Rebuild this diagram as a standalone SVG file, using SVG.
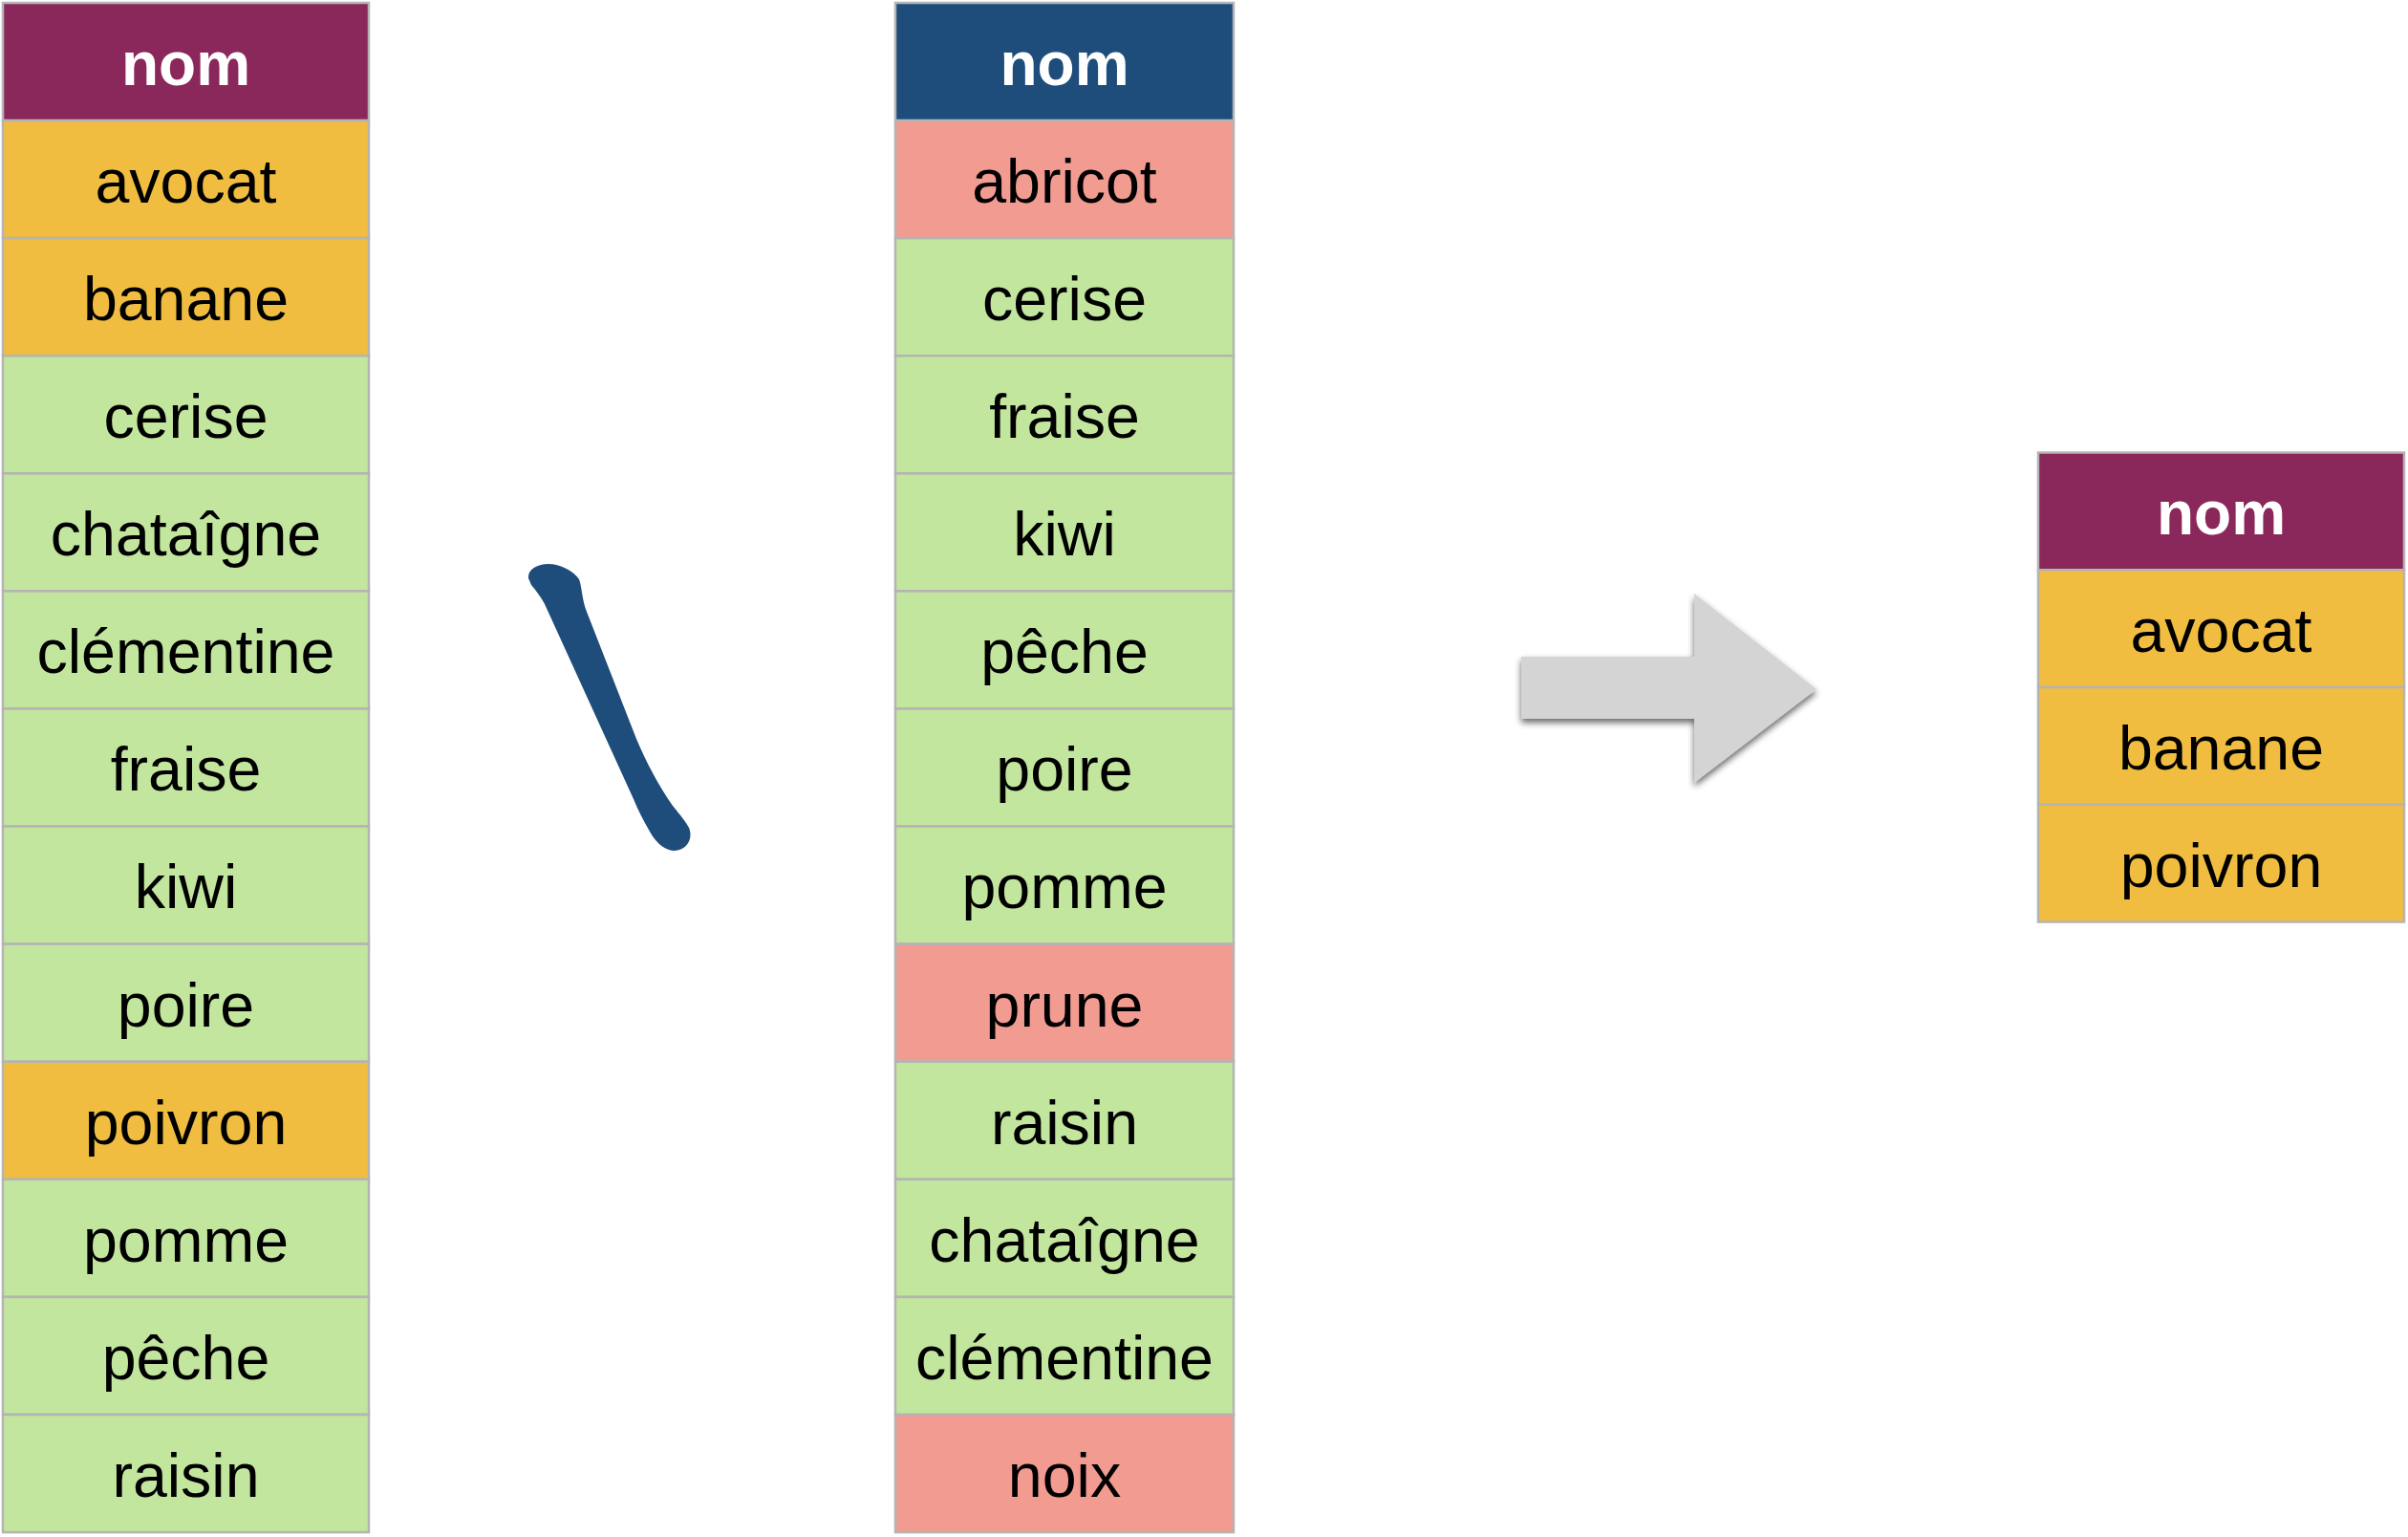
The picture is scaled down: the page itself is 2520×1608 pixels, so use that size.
<svg xmlns="http://www.w3.org/2000/svg" width="2520" height="1608" viewBox="0 0 2520 1608">
<style>
.cell{stroke:#b4b4b4;stroke-width:2.5}
.hp{fill:#8b285b}
.hb{fill:#1f4d7b}
.o{fill:#f0bd40}
.g{fill:#c2e69e}
.p{fill:#f29b90}
.t{font-family:"Liberation Sans",Arial,Helvetica,sans-serif;font-size:64.5px;fill:#000;text-anchor:middle}
.h{font-family:"Liberation Sans",Arial,Helvetica,sans-serif;font-size:64px;font-weight:bold;fill:#fff;text-anchor:middle}
</style>
<defs>
<filter id="sh" x="-10%" y="-10%" width="130%" height="130%">
<feGaussianBlur in="SourceAlpha" stdDeviation="3.5"/>
<feOffset dx="0" dy="4" result="b"/>
<feComponentTransfer><feFuncA type="linear" slope="0.6"/></feComponentTransfer>
<feMerge><feMergeNode/><feMergeNode in="SourceGraphic"/></feMerge>
</filter>
</defs>
<rect width="2520" height="1608" fill="#fff"/>

<g id="table-left">
<rect class="cell hp" x="3" y="3" width="383" height="123.08"/><text class="h" x="194.5" y="89">nom</text>
<rect class="cell o" x="3" y="126.08" width="383" height="123.08"/><text class="t" x="194.5" y="212">avocat</text>
<rect class="cell o" x="3" y="249.16" width="383" height="123.08"/><text class="t" x="194.5" y="335">banane</text>
<rect class="cell g" x="3" y="372.24" width="383" height="123.08"/><text class="t" x="194.5" y="458">cerise</text>
<rect class="cell g" x="3" y="495.32" width="383" height="123.08"/><text class="t" x="194.5" y="581">chataîgne</text>
<rect class="cell g" x="3" y="618.4" width="383" height="123.08"/><text class="t" x="194.5" y="704">clémentine</text>
<rect class="cell g" x="3" y="741.48" width="383" height="123.08"/><text class="t" x="194.5" y="827">fraise</text>
<rect class="cell g" x="3" y="864.56" width="383" height="123.08"/><text class="t" x="194.5" y="950">kiwi</text>
<rect class="cell g" x="3" y="987.64" width="383" height="123.08"/><text class="t" x="194.5" y="1074">poire</text>
<rect class="cell o" x="3" y="1110.72" width="383" height="123.08"/><text class="t" x="194.5" y="1197">poivron</text>
<rect class="cell g" x="3" y="1233.8" width="383" height="123.08"/><text class="t" x="194.5" y="1320">pomme</text>
<rect class="cell g" x="3" y="1356.88" width="383" height="123.08"/><text class="t" x="194.5" y="1443">pêche</text>
<rect class="cell g" x="3" y="1479.96" width="383" height="123.08"/><text class="t" x="194.5" y="1566">raisin</text>
</g>

<g id="operator">
<path fill="#1f4d7b" d="M553 605 C552 596 562 590 574 590 C586 590 600 597 606 606 C609 614 609 628 614 640 L666 773 C676 797 690 823 704 843 C712 853 718 860 721 866 C726 878 718 890 706 890 C697 890 688 884 680 870 C673 858 668 848 663 836 L570 632 C566 624 560 617 556 612 Z"/>
</g>

<g id="table-middle">
<rect class="cell hb" x="937" y="3" width="354" height="123.08"/><text class="h" x="1114" y="89">nom</text>
<rect class="cell p" x="937" y="126.08" width="354" height="123.08"/><text class="t" x="1114" y="212">abricot</text>
<rect class="cell g" x="937" y="249.16" width="354" height="123.08"/><text class="t" x="1114" y="335">cerise</text>
<rect class="cell g" x="937" y="372.24" width="354" height="123.08"/><text class="t" x="1114" y="458">fraise</text>
<rect class="cell g" x="937" y="495.32" width="354" height="123.08"/><text class="t" x="1114" y="581">kiwi</text>
<rect class="cell g" x="937" y="618.4" width="354" height="123.08"/><text class="t" x="1114" y="704">pêche</text>
<rect class="cell g" x="937" y="741.48" width="354" height="123.08"/><text class="t" x="1114" y="827">poire</text>
<rect class="cell g" x="937" y="864.56" width="354" height="123.08"/><text class="t" x="1114" y="950">pomme</text>
<rect class="cell p" x="937" y="987.64" width="354" height="123.08"/><text class="t" x="1114" y="1074">prune</text>
<rect class="cell g" x="937" y="1110.72" width="354" height="123.08"/><text class="t" x="1114" y="1197">raisin</text>
<rect class="cell g" x="937" y="1233.8" width="354" height="123.08"/><text class="t" x="1114" y="1320">chataîgne</text>
<rect class="cell g" x="937" y="1356.88" width="354" height="123.08"/><text class="t" x="1114" y="1443">clémentine</text>
<rect class="cell p" x="937" y="1479.96" width="354" height="123.08"/><text class="t" x="1114" y="1566">noix</text>
</g>

<g id="connectors">
<path id="arrow" fill="#d4d4d4" filter="url(#sh)" d="M1592 687 L1773 687 L1773 621 L1901 721 L1773 819 L1773 752 L1592 752 Z"/>
</g>

<g id="table-right">
<rect class="cell hp" x="2133" y="473.5" width="383" height="122.75"/><text class="h" x="2324.5" y="559">nom</text>
<rect class="cell o" x="2133" y="596.25" width="383" height="122.75"/><text class="t" x="2324.5" y="682">avocat</text>
<rect class="cell o" x="2133" y="719" width="383" height="122.75"/><text class="t" x="2324.5" y="805">banane</text>
<rect class="cell o" x="2133" y="841.75" width="383" height="122.75"/><text class="t" x="2324.5" y="928">poivron</text>
</g>
</svg>
